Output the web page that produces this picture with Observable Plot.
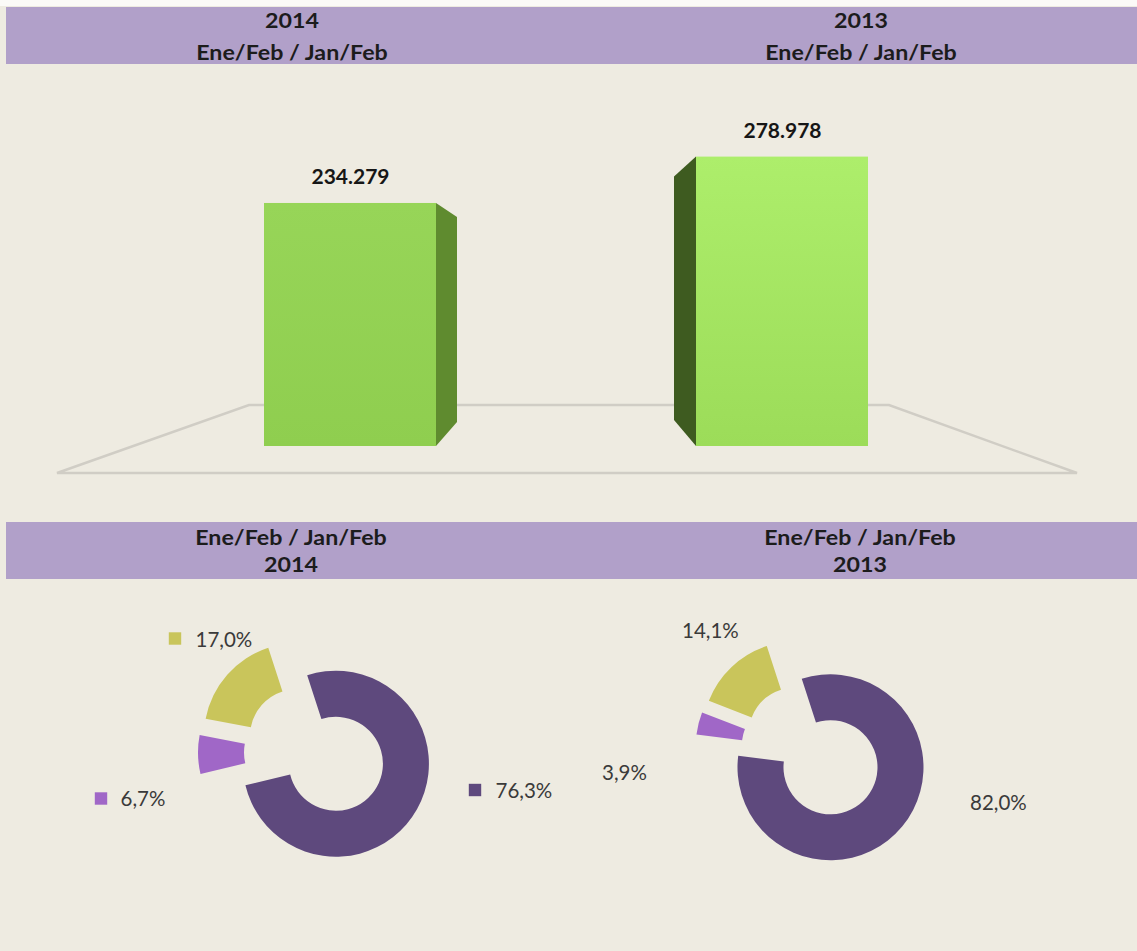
<!DOCTYPE html>
<html>
<head>
<meta charset="utf-8">
<script src="https://cdn.jsdelivr.net/npm/d3@7"></script>
<script src="https://cdn.jsdelivr.net/npm/@observablehq/plot@0.6"></script>
<style>
  body { margin: 0; background: #ffffff; }
  #page { position: relative; width: 1137px; height: 951px; background: #eeebe1; overflow: hidden;
          font-family: Lato, "Open Sans", sans-serif; }
  .band { position: absolute; left: 6px; right: 0; background: #b1a0c9; }
  .hdr { position: absolute; width: 400px; text-align: center; font-weight: 700; font-size: 21.5px;
         color: #1c1c1c; white-space: nowrap; transform: scaleX(1.08); transform-origin: 50% 50%; }
  .hdr.top { line-height: 32px; }
  .hdr.mid { line-height: 27px; }
  .plotbox { position: absolute; left: 0; }
  .plotbox svg { display: block; }
</style>
</head>
<body>
<div id="page">
  <div style="position:absolute;left:0;top:0;width:1137px;height:6px;background:#fbfaf7"></div>
  <div class="band" style="top:7px;height:57px"></div>
  <div class="hdr top" style="left:92px;top:4px">2014<br>Ene/Feb / Jan/Feb</div>
  <div class="hdr top" style="left:661px;top:4px">2013<br>Ene/Feb / Jan/Feb</div>
  <div class="plotbox" id="bars" style="top:64px"></div>
  <div class="band" style="top:522px;height:57px"></div>
  <div class="hdr mid" style="left:91px;top:523.5px">Ene/Feb / Jan/Feb<br>2014</div>
  <div class="hdr mid" style="left:660px;top:523.5px">Ene/Feb / Jan/Feb<br>2013</div>
  <div class="plotbox" id="donuts" style="top:580px"></div>
</div>
<script>
// ---------------- data ----------------
const years = ["2014", "2013"];
const totals = [234279, 278978];
const totalLabels = ["234.279", "278.978"];

const segments = ["Segmento 1", "Segmento 2", "Segmento 3"];
const share2014 = [76.3, 6.7, 17.0];
const share2013 = [82.0, 3.9, 14.1];
const shareLabels2014 = ["76,3%", "6,7%", "17,0%"];
const shareLabels2013 = ["82,0%", "3,9%", "14,1%"];

// ---------------- styles / layout ----------------
const segColors = ["#5e497d", "#a067c7", "#c9c55b"];
const frontGrad = { "2014": ["#97d558", "#8fce4f"], "2013": ["#adee6b", "#9cdc59"] };
const sideColor = { "2014": "#5f8b2f", "2013": "#3e5b20" };
const font = "Lato, 'Open Sans', sans-serif";

// ---------------- bar chart ----------------
const barData = years.map((y, i) => ({ year: y, value: totals[i], label: totalLabels[i] }));

const defsMark = () => {
  const svgNS = "http://www.w3.org/2000/svg";
  const defs = document.createElementNS(svgNS, "defs");
  for (const y of years) {
    const lg = document.createElementNS(svgNS, "linearGradient");
    lg.setAttribute("id", "grad" + y);
    lg.setAttribute("x1", "0"); lg.setAttribute("y1", "0");
    lg.setAttribute("x2", "0"); lg.setAttribute("y2", "1");
    frontGrad[y].forEach((c, k) => {
      const s = document.createElementNS(svgNS, "stop");
      s.setAttribute("offset", k ? "1" : "0");
      s.setAttribute("stop-color", c);
      lg.appendChild(s);
    });
    defs.appendChild(lg);
  }
  return defs;
};

const floorMark = (index, scales) => {
  const x = scales.x, y = scales.y, bw = x.bandwidth();
  const x0 = x(years[0]), x1 = x(years[years.length - 1]) + bw, y0 = y(0);
  const pts = [[x0 - 15, y0 - 41], [x1 + 21, y0 - 41], [x1 + 209, y0 + 27], [x0 - 207, y0 + 27]];
  const g = d3.create("svg:g");
  g.append("path").attr("d", "M" + pts.map(p => p.join(",")).join("L") + "Z")
    .attr("fill", "none").attr("stroke", "#d0cdc5").attr("stroke-width", 2.4);
  return g.node();
};

const sideMark = (index, scales) => {
  const x = scales.x, y = scales.y, bw = x.bandwidth();
  const vanish = (x(years[0]) + x(years[years.length - 1]) + bw) / 2;
  const g = d3.create("svg:g");
  for (const d of barData) {
    const xl = x(d.year), xr = xl + bw, yt = y(d.value), yb = y(0);
    let pts;
    if (xl + bw / 2 < vanish) {
      pts = [[xr, yt], [xr + 21, yt + 14], [xr + 21, yb - 24], [xr, yb]];
    } else {
      pts = [[xl, yt], [xl - 22, yt + 20], [xl - 22, yb - 26], [xl, yb]];
    }
    g.append("path").attr("d", "M" + pts.map(p => p.join(",")).join("L") + "Z")
      .attr("fill", sideColor[d.year]);
  }
  return g.node();
};

const barPlot = Plot.plot({
  width: 1137, height: 457, margin: 0,
  style: { background: "transparent", overflow: "visible" },
  x: { domain: years, range: [264, 868], paddingInner: 0.602, paddingOuter: 0, axis: null },
  y: { domain: [0, 300000], range: [382, 70.8], axis: null },
  marks: [
    defsMark,
    floorMark,
    ...years.map(yr => Plot.barY(barData.filter(d => d.year === yr), {
      x: "year", y: "value", fill: `url(#grad${yr})`
    })),
    sideMark,
    Plot.text(barData, {
      x: "year", y: "value", text: "label", dy: -26,
      fontSize: 21, fontWeight: 700, fill: "#161616", fontFamily: font
    })
  ]
});
document.getElementById("bars").appendChild(barPlot);

// ---------------- donuts ----------------
const donutSets = [
  { year: "2014", values: share2014, labels: shareLabels2014, keys: true },
  { year: "2013", values: share2013, labels: shareLabels2013, keys: false }
];
const startDeg = -18;
const explode = 24, rOuter = 93, rInner = 47;

// label placement (pixel offsets from each donut centre), per segment
const labelOffsets = {
  "2014": [{ dx: 180, dy: 39, kx: 159.5, ky: 37.5 }, { dx: -195, dy: 47, kx: -214.5, ky: 46 }, { dx: -120, dy: -112, kx: -140.5, ky: -114 }],
  "2013": [{ dx: 157.5, dy: 51 }, { dx: -210.5, dy: 21 }, { dx: -130.5, dy: -121 }]
};

const donutMark = (index, scales, values, dims) => {
  const x = scales.x;
  const cy = (dims.marginTop + dims.height - dims.marginBottom) / 2;
  const g = d3.create("svg:g");
  const a0 = startDeg * Math.PI / 180;
  const pie = d3.pie().sort(null).startAngle(a0).endAngle(a0 + 2 * Math.PI);
  const arc = d3.arc().innerRadius(rInner).outerRadius(rOuter);
  for (const set of donutSets) {
    const cx = x(set.year);
    for (const s of pie(set.values)) {
      const mid = (s.startAngle + s.endAngle) / 2;
      const ox = cx + explode * Math.sin(mid), oy = cy - explode * Math.cos(mid);
      g.append("path").attr("d", arc(s)).attr("transform", `translate(${ox},${oy})`)
        .attr("fill", segColors[s.index]);
    }
  }
  return g.node();
};

const labelMarks = [];
for (const set of donutSets) {
  set.values.forEach((v, i) => {
    const o = labelOffsets[set.year][i];
    const row = [{ year: set.year, label: set.labels[i], seg: segments[i] }];
    labelMarks.push(Plot.text(row, {
      x: "year", text: "label", dx: o.dx, dy: o.dy, textAnchor: "start",
      fontSize: 20.5, fill: "#3a3a3a", fontFamily: font
    }));
    if (set.keys) {
      labelMarks.push(Plot.dot(row, {
        x: "year", dx: o.kx, dy: o.ky, symbol: "square", r: 7,
        fill: segColors[i], stroke: "none"
      }));
    }
  });
}

const donutPlot = Plot.plot({
  width: 1137, height: 371, marginTop: 0, marginLeft: 0, marginRight: 0, marginBottom: 27,
  style: { background: "transparent", overflow: "visible" },
  x: { type: "point", domain: years, range: [315, 812.5], padding: 0, axis: null },
  marks: [donutMark, ...labelMarks]
});
document.getElementById("donuts").appendChild(donutPlot);
</script>
</body>
</html>
